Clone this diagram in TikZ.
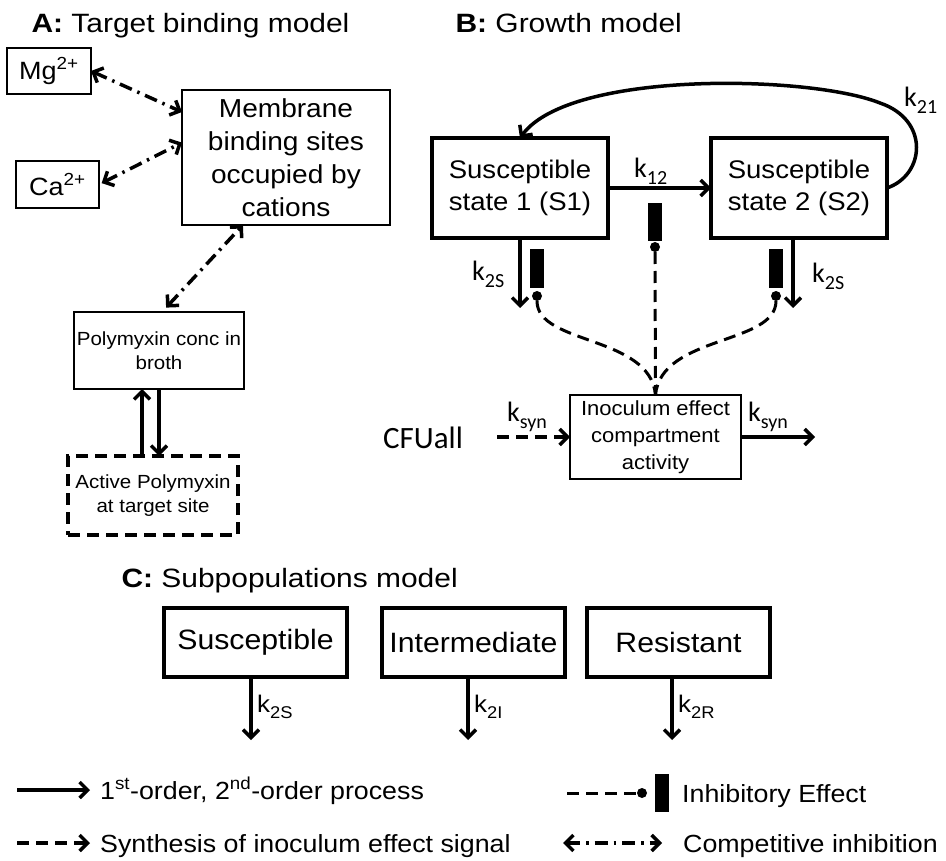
\documentclass[tikz,border=0pt]{standalone}
\usepackage{fontspec}
\setmainfont{Liberation Sans}[FakeStretch=1.08]
\newfontfamily\titlefont{Liberation Sans}[FakeStretch=1.13]
\newfontfamily\calfont{Carlito}
\usetikzlibrary{arrows.meta,calc}
\newcommand{\fs}[2]{\fontsize{#1}{#2}\selectfont}
\newcommand{\kc}[1]{{\calfont\fs{28}{28}k\raisebox{-7pt}{\fs{20}{20}#1}}}
\newcommand{\ka}[1]{{\fs{24}{24}k\raisebox{-6pt}{\fs{17}{17}#1}}}
\begin{document}
\begin{tikzpicture}[x=1pt,y=-1pt,
  >={Straight Barb[length=8pt,width=16pt]},
  thinbox/.style={draw, line width=1.6pt, inner sep=0pt, outer sep=0pt, align=center},
  thickbox/.style={draw, line width=4pt, inner sep=0pt, outer sep=0pt, align=center},
  arr/.style={line width=3.5pt, ->},
  cmp/.style={line width=3.5pt, <->, dash pattern=on 13pt off 6pt on 2.5pt off 6pt},
  dsh/.style={line width=3pt, dash pattern=on 12pt off 7pt},
  dsharr/.style={line width=3.5pt, ->, dash pattern=on 12pt off 7pt},
  barbox/.style={fill=black, inner sep=0pt, outer sep=0pt, minimum width=14pt, minimum height=39pt},
  dotnode/.style={circle, fill=black, inner sep=0pt, outer sep=0pt, minimum size=10pt},
  ttl/.style={anchor=base west, font=\titlefont\fs{26.5}{27}},
  lgd/.style={anchor=base west, font=\fs{24.8}{25}}
]
\useasboundingbox (0,0) rectangle (946,861);
\fill[white] (0,0) rectangle (946,861);

% ---------- Panel A ----------
\node[ttl] (tA) at (28,33) {\textbf{A:} Target binding model};
\node[thinbox, minimum width=84pt, minimum height=46pt, font=\fs{25}{25}] (mg) at (49,71) {Mg\textsuperscript{2+}};
\node[thinbox, minimum width=83pt, minimum height=47pt, font=\fs{25}{25}] (ca) at (57.5,184.5) {Ca\textsuperscript{2+}};
\node[thinbox, minimum width=208pt, minimum height=135pt, font=\fs{26}{33}] (mem) at (286,157.5) {Membrane\\binding sites\\occupied by\\cations};
\node[thinbox, minimum width=170pt, minimum height=77pt, font=\fs{19}{24}] (poly) at (159,350.5) {Polymyxin conc in\\broth};
\node[thickbox, dash pattern=on 12pt off 7pt, minimum width=170pt, minimum height=79pt, font=\fs{19}{24}] (act) at (153,495.5) {Active Polymyxin\\at target site};

\draw[cmp] (mg.east) -- ($(mem.north west)!0.163!(mem.south west)$);
\draw[cmp, shorten <=3pt] (ca.east) -- ($(mem.north west)!0.39!(mem.south west)$);
\draw[cmp, shorten <=6pt] ([xshift=3pt]poly.north) -- ($(mem.south west)!0.293!(mem.south east)$);
\draw[arr] ([xshift=-11pt]act.north) -- ([xshift=-11pt]act.north |- poly.south);
\draw[arr] (poly.south) -- (poly.south |- act.north);

% ---------- Panel B ----------
\node[ttl] (tB) at (452,33) {\textbf{B:} Growth model};
\node[thickbox, minimum width=176pt, minimum height=100pt, font=\fs{25.5}{32}] (s1) at (520,188) {Susceptible\\state 1 (S1)};
\node[thickbox, minimum width=176pt, minimum height=100pt, font=\fs{25.5}{32}] (s2) at (799,188) {Susceptible\\state 2 (S2)};
\draw[arr] (s1.east) -- (s2.west);
\node[anchor=base west, inner sep=0pt] (k12) at (634,178) {\kc{12}};
\draw[arr] (s2.east) .. controls (925,175) and (930,120) .. (880,103) .. controls (810,75) and (570,70) .. (s1.north);
\node[anchor=base west, inner sep=0pt] (k21) at (904,107) {\kc{21}};

\coordinate (d1) at (520,308);
\coordinate (d2) at (793,308);
\draw[arr] (s1.south) -- (d1);
\draw[arr] ([xshift=-6pt]s2.south) -- (d2);
\node[anchor=base west, inner sep=0pt] (k2a) at (472,281) {\kc{2S}};
\node[anchor=base west, inner sep=0pt] (k2b) at (812,283) {\kc{2S}};

\node[barbox] (b1) at (537,268.5) {};
\node[barbox, minimum height=38pt] (b0) at (655,222) {};
\node[barbox] (b2) at (776,268.5) {};
\node[dotnode] (c1) at (537,296) {};
\node[dotnode] (c0) at (655,247) {};
\node[dotnode] (c2) at (776,296) {};

\node[thinbox, minimum width=171pt, minimum height=84pt, font=\fs{20.4}{27}] (inoc) at (655.5,437) {Inoculum effect\\compartment\\activity};
\draw[dsh] (c1.south) .. controls (537,345) and (650,335) .. (inoc.north);
\draw[dsh] (c2.south) .. controls (776,345) and (661,335) .. (inoc.north);
\draw[dsh] (c0.south) -- (inoc.north);

\node[anchor=base west, inner sep=0pt, font=\calfont\fs{31}{31}] (cfu) at (383,448) {CFUall};
\coordinate (cfs) at (497,437);
\draw[dsharr] (cfs) -- (inoc.west);
\node[anchor=base west, inner sep=0pt] (ks1) at (507,421) {\kc{syn}};
\coordinate (oe) at (815,437);
\draw[arr] (inoc.east) -- (oe);
\node[anchor=base west, inner sep=0pt] (ks2) at (748,421) {\kc{syn}};

% ---------- Panel C ----------
\node[ttl] (tC) at (118,587) {\textbf{C:} Subpopulations model};
\node[thickbox, minimum width=183pt, minimum height=69pt, font=\fs{28}{28}] (ps) at (255.5,642.5) {Susceptible};
\node[thickbox, minimum width=183pt, minimum height=69pt, font=\fs{28}{28}] (pi) at (473.5,642.5) {Intermediate};
\node[thickbox, minimum width=183pt, minimum height=69pt, font=\fs{28}{28}] (pr) at (678.5,642.5) {Resistant};
\coordinate (e1) at (251,740);
\coordinate (e2) at (468,740);
\coordinate (e3) at (672,740);
\draw[arr] ([xshift=-4.5pt]ps.south) -- (e1);
\draw[arr] ([xshift=-5.5pt]pi.south) -- (e2);
\draw[arr] ([xshift=-6.5pt]pr.south) -- (e3);
\node[anchor=base west, inner sep=0pt] (kc1) at (257,712) {\ka{2S}};
\node[anchor=base west, inner sep=0pt] (kc2) at (474,712) {\ka{2I}};
\node[anchor=base west, inner sep=0pt] (kc3) at (678,712) {\ka{2R}};

% ---------- Legend ----------
\coordinate (l1a) at (17,790);
\coordinate (l1b) at (90,790);
\draw[arr] (l1a) -- (l1b);
\node[lgd, inner sep=0pt] (lt1) at (100,799) {1\textsuperscript{st}-order, 2\textsuperscript{nd}-order process};

\coordinate (l2a) at (567,793);
\node[dotnode] (ldot) at (642,793) {};
\node[barbox, minimum height=38pt] (lbar) at (662,793) {};
\draw[dsh] (l2a) -- (ldot);
\node[lgd, inner sep=0pt] (lt2) at (682,802) {Inhibitory Effect};

\coordinate (l3a) at (17,843);
\coordinate (l3b) at (90,843);
\draw[dsharr] (l3a) -- (l3b);
\node[lgd, inner sep=0pt] (lt3) at (100,852) {Synthesis of inoculum effect signal};

\coordinate (l4a) at (563,843);
\coordinate (l4b) at (662,843);
\draw[cmp] (l4a) -- (l4b);
\node[lgd, inner sep=0pt] (lt4) at (683,852) {Competitive inhibition};
\end{tikzpicture}
\end{document}
